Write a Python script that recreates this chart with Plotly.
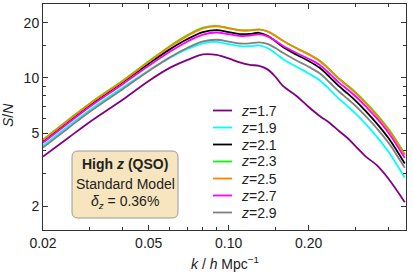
import math
import plotly.graph_objects as go

# ---- data ----
k = [0.020, 0.025, 0.030, 0.040, 0.050, 0.060, 0.070, 0.080, 0.090, 0.100,
     0.110, 0.120, 0.130, 0.140, 0.150, 0.160, 0.180, 0.200, 0.220, 0.240,
     0.260, 0.280, 0.300, 0.330, 0.360, 0.400, 0.460]

sn_z17 = [3.72, 4.73, 5.75, 7.63, 9.63, 11.34, 12.54, 13.44, 13.36, 12.78,
          12.15, 11.78, 11.63, 11.13, 10.13, 9.04, 7.97, 6.94, 6.20, 5.68,
          5.13, 4.70, 4.25, 3.70, 3.35, 2.81, 2.10]
sn_z19 = [4.27, 5.48, 6.69, 8.88, 10.98, 12.86, 14.38, 15.44, 15.71, 15.30,
          14.90, 14.88, 15.05, 14.55, 13.61, 12.69, 11.49, 10.58, 9.71, 8.64,
          7.69, 7.01, 6.40, 5.54, 4.80, 3.94, 2.85]
sn_z21 = [4.52, 5.81, 7.11, 9.49, 11.96, 14.31, 16.29, 17.77, 18.20, 17.77,
          17.35, 17.37, 17.62, 16.98, 15.85, 14.75, 13.38, 12.37, 11.35, 10.11,
          9.01, 8.23, 7.52, 6.53, 5.67, 4.68, 3.41]
sn_z23 = [4.61, 5.93, 7.26, 9.69, 12.32, 14.90, 17.11, 18.80, 19.24, 18.71,
          18.20, 18.16, 18.34, 17.91, 16.94, 15.93, 14.53, 13.48, 12.43, 11.12,
          9.94, 9.11, 8.35, 7.28, 6.35, 5.26, 3.85]
sn_z25 = [4.58, 5.89, 7.21, 9.63, 12.23, 14.77, 16.96, 18.64, 19.12, 18.64,
          18.18, 18.18, 18.41, 17.95, 16.96, 15.93, 14.50, 13.44, 12.38, 11.06,
          9.88, 9.04, 8.28, 7.21, 6.28, 5.20, 3.80]
sn_z27 = [4.43, 5.69, 6.96, 9.27, 11.64, 13.87, 15.79, 17.22, 17.69, 17.31,
          16.94, 17.01, 17.29, 16.86, 15.93, 14.98, 13.68, 12.72, 11.76, 10.53,
          9.43, 8.65, 7.94, 6.93, 6.05, 5.01, 3.66]
sn_z29 = [4.17, 5.35, 6.54, 8.71, 10.90, 12.94, 14.60, 15.81, 16.15, 15.77,
          15.40, 15.42, 15.63, 15.32, 14.55, 13.70, 12.44, 11.51, 10.59, 9.44,
          8.43, 7.70, 7.05, 6.12, 5.33, 4.42, 3.23]

labels = ["1.7", "1.9", "2.1", "2.3", "2.5", "2.7", "2.9"]
series = [sn_z17, sn_z19, sn_z21, sn_z23, sn_z25, sn_z27, sn_z29]
colors = ["#800080", "#00FFFF", "#000000", "#00FF00", "#FF8000", "#FF00FF", "#808080"]

x_major = [0.02, 0.05, 0.10, 0.20]
x_major_text = ["0.02", "0.05", "0.10", "0.20"]
x_minor = [0.03, 0.04, 0.06, 0.07, 0.08, 0.09, 0.15, 0.3, 0.4]
y_major = [2, 5, 10, 20]
y_major_text = ["2", "5", "10", "20"]
y_minor = [3, 4, 6, 7, 8, 9, 15]

FONT = "Liberation Sans, Arial, Helvetica, sans-serif"
AX = "#333333"

fig = go.Figure()
for lab, s, c in zip(labels, series, colors):
    fig.add_trace(go.Scatter(x=k, y=s, mode="lines", name="z=" + lab,
                             line=dict(color=c, width=1.8, shape="spline", smoothing=1.0),
                             showlegend=False, hoverinfo="skip"))

W, H = 413, 275
ml, mr, mt, mb = 43, 7, 4, 45
pw, ph = W - ml - mr, H - mt - mb

def px(xp):
    return (xp - ml) / pw

def py(yp):
    return (H - mb - yp) / ph

shapes = []
annotations = []

# manual legend
for i, (lab, c) in enumerate(zip(labels, colors)):
    yy = 110.5 + 17 * i
    shapes.append(dict(type="line", xref="paper", yref="paper",
                       x0=px(213), x1=px(232), y0=py(yy), y1=py(yy),
                       line=dict(color=c, width=1.8)))
    annotations.append(dict(xref="paper", yref="paper", x=px(239), y=py(yy),
                            xanchor="left", yanchor="middle", showarrow=False,
                            text="<i>z</i>=" + lab,
                            font=dict(family=FONT, size=14, color="#222")))

# rounded text box
x0, x1 = px(72), px(178)
y0, y1 = py(218), py(151)
rx, ry = 6 / pw, 6 / ph
path = (f"M {x0+rx},{y0} L {x1-rx},{y0} Q {x1},{y0} {x1},{y0+ry} "
        f"L {x1},{y1-ry} Q {x1},{y1} {x1-rx},{y1} L {x0+rx},{y1} "
        f"Q {x0},{y1} {x0},{y1-ry} L {x0},{y0+ry} Q {x0},{y0} {x0+rx},{y0} Z")
shapes.append(dict(type="path", xref="paper", yref="paper", path=path,
                   fillcolor="#F6E5BE", line=dict(color="#9a9a9a", width=1)))
box_lines = [("<b>High <i>z</i> (QSO)</b>", 164),
             ("Standard Model", 184),
             ("<i>δ</i><sub><i>z</i></sub> = 0.36%", 202)]
for t, yy in box_lines:
    annotations.append(dict(xref="paper", yref="paper", x=px(125), y=py(yy),
                            xanchor="center", yanchor="middle", showarrow=False,
                            text=t, font=dict(family=FONT, size=14, color="#222")))

# axis titles
annotations.append(dict(xref="paper", yref="paper", x=px(225), y=py(263),
                        xanchor="center", yanchor="middle", showarrow=False,
                        text="<i>k</i> / <i>h</i> Mpc<sup>−1</sup>",
                        font=dict(family=FONT, size=14, color="#222")))
annotations.append(dict(xref="paper", yref="paper", x=px(8), y=py(115),
                        xanchor="center", yanchor="middle", showarrow=False,
                        textangle=-90, text="<i>S</i>/<i>N</i>",
                        font=dict(family=FONT, size=14, color="#222")))

axis_common = dict(type="log", showgrid=False, zeroline=False, showline=True,
                   linecolor=AX, linewidth=1, mirror="allticks",
                   ticks="inside", ticklen=5, tickwidth=1, tickcolor=AX,
                   tickmode="array",
                   tickfont=dict(family=FONT, size=14, color="#222"))

fig.update_layout(
    width=W, height=H,
    margin=dict(l=ml, r=mr, t=mt, b=mb),
    paper_bgcolor="white", plot_bgcolor="white",
    hovermode=False,
    xaxis=dict(axis_common, range=[math.log10(0.02), math.log10(0.465)],
               tickvals=x_major, ticktext=x_major_text,
               minor=dict(tickvals=x_minor, ticks="inside", ticklen=3,
                          tickcolor=AX, showgrid=False)),
    yaxis=dict(axis_common, range=[math.log10(1.48), math.log10(25.3)],
               tickvals=y_major, ticktext=y_major_text,
               minor=dict(tickvals=y_minor, ticks="inside", ticklen=3,
                          tickcolor=AX, showgrid=False)),
    shapes=shapes, annotations=annotations,
)

fig.write_html("out.html", config={"displayModeBar": False, "staticPlot": True},
               post_script="document.body.style.margin='0px';document.body.style.padding='0px';")
